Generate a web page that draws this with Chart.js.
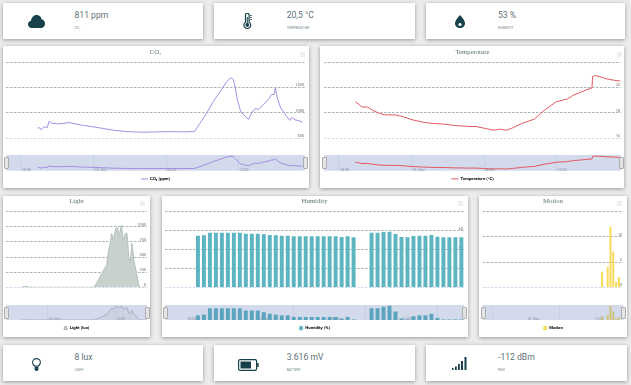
<!DOCTYPE html>
<html><head><meta charset="utf-8">
<script src="https://cdn.jsdelivr.net/npm/chart.js@4"></script>
<style>
html,body{margin:0;padding:0;background:#ececec;overflow:hidden;width:631px;height:385px}
#page{position:relative;width:631px;height:385px;background:#ececec;overflow:hidden;filter:blur(.35px)}
.card{position:absolute;background:#fff;box-shadow:0 1px 4px rgba(0,0,0,.36)}
canvas{position:absolute;display:block}
.val{position:absolute;font:8.6px Roboto,sans-serif;color:#5e7177;white-space:nowrap;line-height:10px}
.sub{position:absolute;font:3.3px Roboto,sans-serif;color:#75858a;white-space:nowrap;line-height:4px}
.ico{position:absolute}
.handle{position:absolute;width:3px;height:10px;background:#e4e4e4;border:.6px solid #adadad;border-radius:1px}
.menu{position:absolute;width:5px;height:5px;background:#efefef}
</style></head><body><div id="page"></div>
<script>
// ---------- data (hours counted from 00:00 on 15 Dec) ----------
const co2Hours=[19.38,19.52,19.65,19.85,19.99,20.15,20.34,20.54,20.95,21.5,21.97,22.47,23.16,23.98,24.81,25.64,26.46,27.29,28.12,29.22,30.32,31.29,32.34,32.81,33.36,33.91,34.46,35.01,35.37,35.56,35.73,35.89,36.17,36.53,36.83,37.08,37.35,37.63,38.04,38.46,38.73,38.93,39.04,39.2,39.48,39.7,39.97,40.25,40.39,40.66,41.08,41.3];
const co2Values=[699,712,666,718,725,705,838,798,785,791,811,785,752,725,692,659,639,626,619,626,632,626,632,798,996,1228,1414,1612,1692,1658,1493,1261,1030,930,871,996,1083,1069,1162,1261,1361,1361,1493,1294,1096,1030,930,851,910,864,838,818];
const tempHours=[19.35,19.63,19.9,20.37,20.78,21.34,21.75,22.71,23.4,24.04,24.92,25.75,26.71,27.54,28.78,29.33,30.02,30.85,31.26,31.87,32.36,33.19,34.16,34.98,35.95,36.91,37.33,37.88,38.43,38.93,38.98,39.2,39.67,40.08,40.77,41.27];
const tempValues=[18.86,18.68,18.46,18.46,18.2,17.96,17.85,17.83,17.67,17.46,17.27,17.17,17.11,17.01,16.93,16.93,16.79,16.64,16.72,16.64,16.82,17.19,17.51,18.2,18.86,19.1,19.36,19.58,19.79,19.97,20.85,20.93,20.82,20.69,20.56,20.5];
const lightHours=[19.4,19.76,20.35,20.94,32.24,33,33.59,34.47,34.76,35.06,35.35,35.65,36.06,36.35,36.71,37.06,37.41,37.76,38.06,38.35,38.65,38.94,39.29,39.76,40.12,40.35,40.94,41.3];
const lightValues=[0,11,11,0,0,121,231,369,589,726,891,781,974,990,864,1029,781,891,891,506,424,726,424,231,39,0,0,8];
const humidityHours=[19,19.5,20,20.5,21,21.5,22,22.5,23,23.5,24,24.5,25,25.5,26,26.5,27,27.5,28,28.5,29,29.5,30,30.5,31,31.5,32,33.5,34,34.5,35,35.5,36,36.5,37,37.5,38,38.5,39,39.5,40,40.5,41];
const humidityValues=[54.3,54.6,57.4,57.4,57.4,57.4,57.4,57.4,56.4,56.4,56.4,55.7,55,54.6,54.3,54.3,53.6,53.6,53.6,53.6,53.6,53.6,53.6,53.6,52.9,53.6,52.5,57.4,57.4,58.1,58.5,56,52.9,52.5,53.9,54.3,54.3,55,53.2,52.5,52.5,52.5,52.5];
const motionHours=[37.5,38.5,39,39.5,40,40.5];
const motionValues=[3,4,12,7,1,2];
const threeHourTicks=[18,21,24,27,30,33,36,39];
const threeHourLabels=['18:00','21:00','16. Dec','03:00','06:00','09:00','12:00','15:00'];
const sixHourTicks=[18,24,30,36];
const sixHourLabels=['18:00','16. Dec','06:00','12:00'];
const co2Ticks=[500,1000,1500,2000];
const tempTicks=[16,18,20,22];
const lightTicks=[0,250,500,750,1000,1250];
const humidityTicks=[0,20,40,60,80];
const motionTicks=[0,5,10,15];

// ---------- page ----------
const page=document.getElementById('page');
const FONT='Roboto, sans-serif';
const TITLEFONT='"Liberation Serif", serif';
function el(cls,css,parent){const d=document.createElement('div');d.className=cls;Object.assign(d.style,css);(parent||page).appendChild(d);return d;}
function px(n){return n+'px';}
const icons={
 cloud:'<svg width="17" height="13" viewBox="0 0 17 13"><path fill="#17404b" d="M4 13C1.7 13 0 11.4 0 9.3 0 7.5 1.2 6 3 5.7 3.4 2.5 5.6 0 8.6 0c2.6 0 4.6 1.8 5 4.3 1.9.3 3.4 2.2 3.4 4.4 0 2.400-1.800 4.300-4 4.300z"/></svg>',
 thermo:'<svg width="10" height="16" viewBox="0 0 10 16"><path fill="none" stroke="#17404b" stroke-width="1.2" d="M2.500 2a1.800 1.800 0 0 1 3.600 0v7.200a3.400 3.400 0 1 1-3.600 0z"/><circle cx="4.300" cy="12" r="1.900" fill="#17404b"/><rect x="3.800" y="4" width="1" height="7" fill="#17404b"/><path stroke="#17404b" stroke-width=".7" d="M7 2.500h2M7 4.500h2M7 6.500h2"/></svg>',
 drop:'<svg width="10" height="13" viewBox="0 0 10 13"><path fill="#17404b" d="M5 0C5 0 0 5.400 0 8.200 0 10.900 2.200 13 5 13s5-2.100 5-4.800C10 5.400 5 0 5 0z"/><circle cx="5" cy="9.500" r="1.600" fill="#fff"/></svg>',
 bulb:'<svg width="9" height="13" viewBox="0 0 9 13"><path fill="none" stroke="#17404b" stroke-width="1.100" d="M2.700 8C1.500 7 .6 5.900.6 4.400.6 2.300 2.300.6 4.500.6s3.900 1.700 3.900 3.800C8.400 5.900 7.500 7 6.300 8z"/><path fill="#17404b" d="M2.600 8.500h3.800v2.800L5.400 13H3.600L2.600 11.300z"/></svg>',
 battery:'<svg width="21" height="12" viewBox="0 0 21 12"><rect x=".6" y=".6" width="18" height="10.800" rx="1.600" fill="none" stroke="#17404b" stroke-width="1.200"/><rect x="2.500" y="2.500" width="10.500" height="7" fill="#17404b"/><rect x="19.200" y="4" width="1.500" height="4" fill="#17404b"/></svg>',
 signal:'<svg width="15" height="13" viewBox="0 0 15 13"><rect x="0" y="11" width="1.500" height="2" fill="#17404b"/><rect x="3" y="9.500" width="1.800" height="3.500" fill="#17404b"/><rect x="6" y="7" width="1.800" height="6" fill="#17404b"/><rect x="9" y="4" width="2" height="9" fill="#17404b"/><rect x="12.500" y="0" width="2" height="13" fill="#17404b"/></svg>'
};
function stat(x,y,w,h,ico,ix,iy,tx,val,sub){
  el('card',{left:px(x),top:px(y),width:px(w),height:px(h)});
  const i=el('ico',{left:px(ix),top:px(iy)});i.innerHTML=icons[ico];
  const v=el('val',{left:px(tx),top:px(y+7)});v.textContent=val;
  const s=el('sub',{left:px(tx),top:px(y+22.800)});s.innerHTML=sub;
}
stat(3,3,200,36,'cloud',28,13.500,74.500,'811 ppm','CO<sub style="font-size:2.500px">2</sub>');
stat(214,3,201,36,'thermo',243,13,286.700,'20,5 °C','TEMPERATURE');
stat(426,3,199,36,'drop',455,13.500,498,'53 %','HUMIDITY');
stat(3,345,200,36,'bulb',32,356.500,74.500,'8 lux','LIGHT');
stat(214,345,201,36,'battery',238,356.500,286.700,'3.616 mV','BATTERY');
stat(426,345,201,36,'signal',452,356,498,'-112 dBm','RSSI');

const navFill={id:'navFill',beforeDraw(c){const a=c.chartArea,g=c.ctx;g.save();g.fillStyle='#d2daec';g.fillRect(a.left,a.top,a.width,a.height);g.restore();}};

function panel(o){
  const {card,plot,nav}=o;            // card:[x,y,w,h], plot:[l,t,r,b], nav:[t,b]
  el('card',{left:px(card[0]),top:px(card[1]),width:px(card[2]),height:px(card[3])});
  const xPad={left:plot[0]-card[0],right:card[0]+card[2]-plot[2]};
  // main chart
  const c1=document.createElement('canvas');
  const h1=Math.ceil(plot[3]-card[1]+11);
  c1.width=card[2];c1.height=h1;
  Object.assign(c1.style,{left:px(card[0]),top:px(card[1]),width:px(card[2]),height:px(h1)});
  page.appendChild(c1);
  const xAxisH=h1-(plot[3]-card[1]);
  const isBar=o.type==='bar';
  const points=o.xs.map((v,i)=>({x:v,y:o.ys[i]}));
  const ds=()=>({label:o.label,data:points,borderColor:o.color,backgroundColor:o.fill||o.color,borderWidth:isBar?0:1,pointRadius:0,tension:0,fill:o.area?'origin':false,barThickness:o.bar});
  const tLine=8.160; // title font size x line height
  new Chart(c1,{type:o.type,data:{datasets:[ds()]},options:{
    responsive:false,animation:false,devicePixelRatio:1,
    layout:{autoPadding:false,padding:{left:xPad.left,right:xPad.right,top:0,bottom:0}},
    plugins:{legend:{display:false},tooltip:{enabled:false},
      title:{display:true,text:o.title,color:'#5e7177',font:{family:TITLEFONT,size:6.800,weight:'normal',lineHeight:1.200},
        padding:{top:o.titleY-tLine/2,bottom:plot[1]-card[1]-(o.titleY-tLine/2)-tLine}}},
    scales:{
      x:{type:'linear',min:o.xr[0],max:o.xr[1],offset:false,
        grid:{display:false},border:{display:false},
        afterBuildTicks(s){s.ticks=o.xTicks.map(v=>({value:v}));},
        afterFit(s){s.height=xAxisH;},
        ticks:{autoSkip:false,maxRotation:0,padding:3,color:'#707070',font:{family:FONT,size:3.800},callback:(v,i)=>o.xLabels[i]}},
      y:{type:'linear',position:'right',min:o.yTicks[0],max:o.yTicks[o.yTicks.length-1],
        border:{display:false,dash:[2.600,1.400]},
        afterBuildTicks(s){s.ticks=o.yTicks.map(v=>({value:v}));},
        grid:{drawTicks:false,lineWidth:1,color:c=>c.tick.value===o.yTicks[0]?'#d3dcee':'#a8b6b4'},
        ticks:{mirror:true,padding:-1,labelOffset:-2,autoSkip:false,color:'#707070',font:{family:FONT,size:3.900},
          callback:(v,i)=>i===o.yTicks.length-1?'':String(v)}}
    }}});
  // navigator + legend
  const c2=document.createElement('canvas');
  const h2=card[1]+card[3]-nav[0];
  c2.width=card[2];c2.height=h2;
  Object.assign(c2.style,{left:px(card[0]),top:px(nav[0]),width:px(card[2]),height:px(h2)});
  page.appendChild(c2);
  const nd=ds();nd.backgroundColor=o.navFill||o.color;nd.borderColor=o.navLine||o.color;
  const c=new Chart(c2,{type:o.type,data:{datasets:[nd]},plugins:[navFill],options:{
    responsive:false,animation:false,devicePixelRatio:1,
    layout:{autoPadding:false,padding:{left:xPad.left,right:xPad.right,top:0,bottom:0}},
    plugins:{tooltip:{enabled:false},
      legend:{display:true,position:'bottom',onClick:null,
        labels:{usePointStyle:true,pointStyleWidth:isBar||o.area?4:7,boxHeight:3.500,padding:o.legendPad,color:'#3c4d53',
          font:{family:FONT,size:4.300,weight:'bold'},
          generateLabels(ch){return [{text:o.label,fillStyle:o.color,strokeStyle:o.color,lineWidth:isBar||o.area?0:1,pointStyle:isBar||o.area?'circle':'line',datasetIndex:0}];}}}},
    scales:{
      x:{type:'linear',min:o.xr[0],max:o.xr[1],offset:false,
        border:{display:false},grid:{drawTicks:false,color:'#c3cbdf',lineWidth:.7},
        afterBuildTicks(s){s.ticks=o.navTicks.map(v=>({value:v}));},
        afterFit(s){s.height=0;},
        ticks:{mirror:true,autoSkip:false,maxRotation:0,align:'start',padding:-1.500,labelOffset:1,color:'#878fa0',font:{family:FONT,size:3.600},callback:(v,i)=>o.navLabels[i]}},
      y:{display:false,min:o.navY[0],max:o.navY[1]}
    }}});
  const diff=c.chartArea.height-(nav[1]-nav[0]);
  c.options.layout.padding.bottom=diff;c.update('none');
  // range handles and menu square
  [plot[0],plot[2]].forEach(xx=>el('handle',{left:px(xx-2),top:px((nav[0]+nav[1])/2-5.300)}));
  el('menu',{left:px(o.menu[0]),top:px(o.menu[1])});
}

const line={type:'line'};
panel({...line,title:'CO₂',label:'CO₂ (ppm)',xs:co2Hours,ys:co2Values,color:'#a48ee2',
  card:[3,46,306,142],plot:[6,62,305,138.300],nav:[155,170],titleY:6.300,legendPad:6,menu:[299.500,52],
  xr:[16.76,41.49],xTicks:threeHourTicks,xLabels:threeHourLabels,navTicks:sixHourTicks,navLabels:sixHourLabels,
  yTicks:co2Ticks,navY:[440,1781]});
panel({...line,title:'Temperature',label:'Temperature (°C)',xs:tempHours,ys:tempValues,color:'#e2595f',
  card:[320,46,304,142],plot:[324,62,621,138.300],nav:[155,170],titleY:6.300,legendPad:6,menu:[616.500,52],
  xr:[16.76,41.33],xTicks:threeHourTicks,xLabels:threeHourLabels,navTicks:sixHourTicks,navLabels:sixHourLabels,
  yTicks:tempTicks,navY:[16.05,21.28]});
panel({...line,title:'Light',label:'Light (lux)',xs:lightHours,ys:lightValues,color:'#b5c0bb',fill:'#c9d1cd',navFill:'rgba(170,178,185,.18)',navLine:'#aab3c4',area:true,
  card:[3,196,147,141],plot:[6,211.700,147,287.300],nav:[305,319],titleY:5,legendPad:6,menu:[140,201],
  xr:[16.7,41.58],xTicks:sixHourTicks,xLabels:sixHourLabels,navTicks:[24,36],navLabels:['16. Dec','12:00'],
  yTicks:lightTicks,navY:[0,1100]});
panel({type:'bar',title:'Humidity',label:'Humidity (%)',xs:humidityHours,ys:humidityValues,color:'#5cb5c0',navFill:'#5aa5bd',bar:3.300,
  card:[162,196,306,141],plot:[165,211.700,464,287.300],nav:[305,319],titleY:5,legendPad:6,menu:[458,201],
  xr:[16.25,41.22],xTicks:threeHourTicks,xLabels:threeHourLabels,navTicks:sixHourTicks,navLabels:sixHourLabels,
  yTicks:humidityTicks,navY:[52.4,59]});
panel({type:'bar',title:'Motion',label:'Motion',xs:motionHours,ys:motionValues,color:'#f8da58',navFill:'#d1c27a',bar:1.300,
  card:[479,196,148,141],plot:[482.700,211.700,623.300,287.300],nav:[305,319],titleY:5,legendPad:6,menu:[617,201],
  xr:[16.22,41.29],xTicks:sixHourTicks,xLabels:sixHourLabels,navTicks:[24,36],navLabels:['16. Dec','12:00'],
  yTicks:motionTicks,navY:[0,13]});
</script></body></html>
